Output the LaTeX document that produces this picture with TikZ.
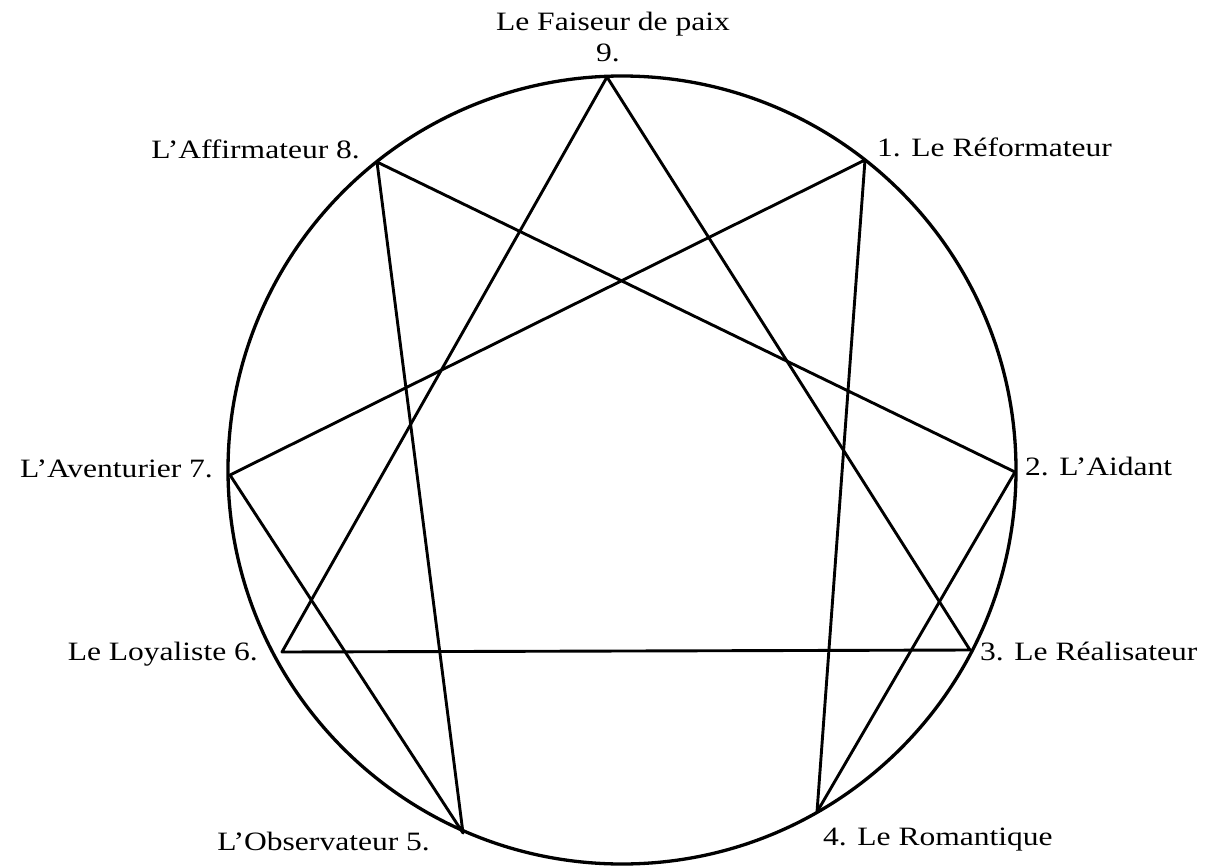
\documentclass[tikz,border=0pt]{standalone}
\usepackage{fontspec}
\setmainfont{Liberation Serif}[FakeStretch=1.19]
\begin{document}
\begin{tikzpicture}[x=1pt,y=-1pt,
  lbl/.style={inner sep=0pt,font=\fontsize{26.5}{30}\selectfont},
  edge/.style={line width=2.9pt,line join=round,line cap=round}]
\useasboundingbox (0,0) rectangle (1207,867);
% vertices
\coordinate (p9) at (607,77);
\coordinate (p1) at (865,160);
\coordinate (p2) at (1015,472);
\coordinate (p3) at (970,650);
\coordinate (p4) at (817,812);
\coordinate (p5) at (463,833);
\coordinate (p6) at (282,652);
\coordinate (p7) at (230,475);
\coordinate (p8) at (377,162);
% circle
\node[circle,draw,line width=3.3pt,minimum size=788pt,inner sep=0pt] (circ) at (622,470) {};
% triangle
\draw[edge] (p9) -- (p3) -- (p6) -- cycle;
% hexad
\draw[edge] (p1) -- (p4) -- (p2) -- (p8) -- (p5) -- (p7) -- cycle;
% labels
\node[lbl,anchor=base] (t9a) at (613,31) {Le Faiseur de paix};
\node[lbl,anchor=base] (t9b) at (608,62) {9.};
\node[lbl,anchor=base east] (t8) at (360,158) {L’Affirmateur 8.};
\node[lbl,anchor=base west] (t1) at (877,156) {1. Le Réformateur};
\node[lbl,anchor=base east] (t7) at (213,477) {L’Aventurier 7.};
\node[lbl,anchor=base west] (t2) at (1025,475) {2. L’Aidant};
\node[lbl,anchor=base east] (t6) at (258,660) {Le Loyaliste 6.};
\node[lbl,anchor=base west] (t3) at (980,660) {3. Le Réalisateur};
\node[lbl,anchor=base east] (t5) at (430,850) {L’Observateur 5.};
\node[lbl,anchor=base west] (t4) at (823,845) {4. Le Romantique};
\end{tikzpicture}
\end{document}
